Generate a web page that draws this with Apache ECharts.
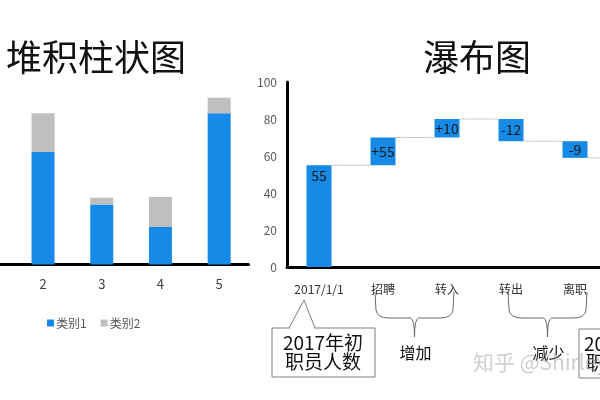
<!DOCTYPE html>
<html>
<head>
<meta charset="utf-8">
<script src="https://cdn.jsdelivr.net/npm/echarts@6/dist/echarts.min.js"></script>
<style>
html,body{margin:0;padding:0;background:#fff;}
#c{width:600px;height:400px;}
</style>
</head>
<body>
<div id="c"></div>
<script>
// ---- stacked column data ----
const stackCats = ['1', '2', '3', '4', '5'];
const series1 = [4.3, 4.5, 2.4, 1.5, 6.05];
const series2 = [2.4, 1.55, 0.27, 1.2, 0.62];
const stackNames = ['类别1', '类别2'];

// ---- waterfall data ----
const wfCats = ['2017/1/1', '招聘', '转入', '转出', '离职', '2017/12/31'];
const wfValues = [55, 15, 10, -12, -9, 59];
const wfIsTotal = [true, false, false, false, false, true];
const wfLabels = ['55', '+55', '+10', '-12', '-9', '59'];
const wfTicks = [0, 20, 40, 60, 80, 100];
const braceGroups = [['招聘', '转入', '增加'], ['转出', '离职', '减少']];

const BLUE = '#1789E6', GRAY = '#BFBFBF';
const FONT = '"Noto Sans CJK SC", "Noto Sans", sans-serif';

// build waterfall base/height
const wfBase = [], wfHeight = [], wfEnd = [];
let running = 0;
wfValues.forEach((v, i) => {
  if (wfIsTotal[i]) { wfBase.push(0); wfHeight.push(v); running = v; }
  else {
    const s = running, e = running + v;
    wfBase.push(Math.min(s, e)); wfHeight.push(Math.abs(v)); running = e;
  }
  wfEnd.push(running);
});
const connectors = wfEnd.slice(0, -1).map((v, i) => [i, v]);
const WF_BAR = 25;

function bracePath(xl, xr, c) {
  const yTop = 292, yMid = 318, yTip = 337;
  return 'M' + xl + ' ' + yTop + ' L' + (xl + 1) + ' ' + (yTop + 18) + ' Q' + (xl + 2) + ' ' + yMid + ' ' + (xl + 14) + ' ' + yMid +
    ' L' + (c - 4) + ' ' + yMid + ' Q' + c + ' ' + (yMid + 1) + ' ' + c + ' ' + yTip +
    ' M' + xr + ' ' + yTop + ' L' + (xr - 1) + ' ' + (yTop + 18) + ' Q' + (xr - 2) + ' ' + yMid + ' ' + (xr - 14) + ' ' + yMid +
    ' L' + (c + 4) + ' ' + yMid + ' Q' + c + ' ' + (yMid + 1) + ' ' + c + ' ' + yTip;
}
const braceOffsets = [[-8, 7], [-3, 12]];

const chart = echarts.init(document.getElementById('c'));
chart.setOption({
  animation: false,
  textStyle: { fontFamily: FONT },
  title: [
    { text: '堆积柱状图', left: 6, top: 39, padding: 0, textStyle: { fontSize: 36, fontWeight: 'normal', color: '#111', fontFamily: FONT } },
    { text: '瀑布图', left: 423, top: 39, padding: 0, textStyle: { fontSize: 36, fontWeight: 'normal', color: '#111', fontFamily: FONT } }
  ],
  legend: {
    data: stackNames, left: 42, top: 312, icon: 'rect', itemWidth: 7, itemHeight: 7, itemGap: 14,
    textStyle: { fontSize: 12, color: '#595959', fontFamily: FONT, padding: [0, 0, 0, -3] }
  },
  grid: [
    { left: -45, width: 293.5, top: 64.5, height: 200, outerBoundsMode: 'none', containLabel: false },
    { left: 287, width: 384, top: 82, height: 185, outerBoundsMode: 'none', containLabel: false }
  ],
  xAxis: [
    { type: 'category', gridIndex: 0, data: stackCats,
      axisLine: { lineStyle: { color: '#000', width: 3 } }, axisTick: { show: false },
      axisLabel: { fontSize: 13, color: '#404040', margin: 13 } },
    { type: 'category', gridIndex: 1, data: wfCats,
      axisLine: { lineStyle: { color: '#000', width: 3 } }, axisTick: { show: false },
      axisLabel: { fontSize: 12, color: '#333', margin: 16, interval: 0 } }
  ],
  yAxis: [
    { type: 'value', gridIndex: 0, min: 0, max: 8, show: false },
    { type: 'value', gridIndex: 1, min: wfTicks[0], max: wfTicks[wfTicks.length - 1], interval: 20,
      axisLine: { show: true, lineStyle: { color: '#000', width: 3 } }, axisTick: { show: false },
      splitLine: { show: false },
      axisLabel: { fontSize: 12, color: '#595959', margin: 10 } }
  ],
  series: [
    { name: stackNames[0], type: 'bar', stack: 's', xAxisIndex: 0, yAxisIndex: 0, barWidth: 23,
      itemStyle: { color: BLUE }, data: series1 },
    { name: stackNames[1], type: 'bar', stack: 's', xAxisIndex: 0, yAxisIndex: 0, barWidth: 23,
      itemStyle: { color: GRAY }, data: series2 },
    { name: 'base', type: 'bar', stack: 'w', xAxisIndex: 1, yAxisIndex: 1, barWidth: WF_BAR,
      itemStyle: { color: 'transparent' }, data: wfBase, silent: true },
    { name: 'wf', type: 'bar', stack: 'w', xAxisIndex: 1, yAxisIndex: 1, barWidth: WF_BAR,
      itemStyle: { color: BLUE },
      data: wfHeight.map((h, i) => ({
        value: h,
        label: { show: true, position: i === 0 ? 'insideTop' : 'inside', distance: 3,
          formatter: wfLabels[i], fontSize: 14, color: '#1a1a1a', fontFamily: FONT }
      })) },
    { name: 'conn', type: 'custom', xAxisIndex: 1, yAxisIndex: 1, data: connectors, z: 1,
      renderItem: function (params, api) {
        const p = api.coord([api.value(0), api.value(1)]);
        const w = api.size([1, 0])[0];
        return { type: 'line', shape: { x1: p[0] + WF_BAR / 2, y1: p[1], x2: p[0] + w - WF_BAR / 2, y2: p[1] },
          style: { stroke: '#b0b0b0', lineWidth: 1, lineDash: [2, 1] } };
      } },
    { name: 'braces', type: 'custom', xAxisIndex: 1, yAxisIndex: 1, clip: false, silent: true,
      data: braceGroups.map((g, i) => [wfCats.indexOf(g[0]), wfCats.indexOf(g[1]), i]),
      renderItem: function (params, api) {
        const i = api.value(2);
        const xl = api.coord([api.value(0), 0])[0] + braceOffsets[i][0];
        const xr = api.coord([api.value(1), 0])[0] + braceOffsets[i][1];
        const c = (xl + xr) / 2;
        return { type: 'group', children: [
          { type: 'path', shape: { pathData: bracePath(xl, xr, c) }, style: { fill: 'none', stroke: '#666', lineWidth: 1 } },
          { type: 'text', x: c + 1, y: 353, style: { text: braceGroups[i][2], fontSize: 16, fill: '#111', fontFamily: FONT, align: 'center', verticalAlign: 'middle' } }
        ] };
      } }
  ]
});

// callout boxes positioned from the category axis
function cx(i) { return chart.convertToPixel({ gridIndex: 1 }, [i, 0])[0]; }
const c0 = cx(0), c5 = cx(5);
const boxStyle = { fill: '#fff', stroke: '#7f7f7f', lineWidth: 1 };
const boxText = { fontSize: 19, fill: '#111', fontFamily: FONT, lineHeight: 19, align: 'center', verticalAlign: 'middle' };
chart.setOption({
  graphic: [
    { type: 'rect', shape: { x: c0 - 47, y: 328, width: 103, height: 49 }, style: boxStyle },
    { type: 'polyline', shape: { points: [[c0 - 30, 328], [c0 - 15, 300], [c0 - 4, 328]] }, style: { fill: 'none', stroke: '#7f7f7f', lineWidth: 1 } },
    { type: 'line', shape: { x1: c0 - 29, y1: 328, x2: c0 - 5, y2: 328 }, style: { stroke: '#fff', lineWidth: 2 } },
    { type: 'text', x: c0 + 4, y: 352, style: Object.assign({ text: '2017年初\n职员人数' }, boxText) },
    { type: 'rect', shape: { x: c5 - 60, y: 329, width: 103, height: 49 }, style: boxStyle },
    { type: 'text', x: c5 - 15, y: 353, style: Object.assign({ text: '2017年末\n职员人数' }, boxText) },
    { type: 'text', x: 473, y: 362, z: 100, style: { text: '知乎 @Shirley', fontSize: 21, fill: 'rgba(160,160,160,0.5)', fontFamily: FONT, verticalAlign: 'middle' } }
  ]
});
</script>
</body>
</html>
